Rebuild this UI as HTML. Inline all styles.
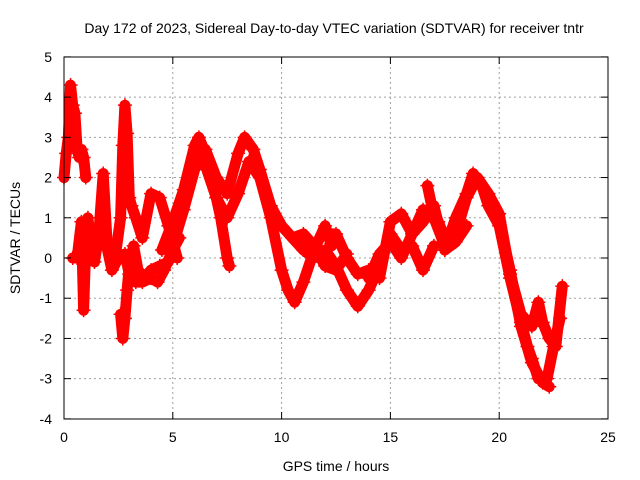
<!DOCTYPE html>
<html><head><meta charset="utf-8"><style>
body{margin:0;background:#fff}
svg{display:block;font-family:"Liberation Sans",sans-serif}
</style></head><body>
<svg id="c" width="640" height="480">
<text x="334" y="33" text-anchor="middle" font-size="14">Day 172 of 2023, Sidereal Day-to-day VTEC variation (SDTVAR) for receiver tntr</text>
<text x="336" y="471" text-anchor="middle" font-size="14">GPS time / hours</text>
<text transform="translate(20,238) rotate(-90)" text-anchor="middle" font-size="14">SDTVAR / TECUs</text>
<g id="grid"></g><g id="marks"></g>
<rect x="64" y="57" width="544" height="362" fill="none" stroke="#000"/>
<g id="ticks"></g>
</svg>
<script>
const xTicks=[0,5,10,15,20,25];
const yTicks=[-4,-3,-2,-1,0,1,2,3,4,5];
const t1=[0,0.1,0.2,0.3,0.4,0.5,0.6,0.7,0.8,0.9,1.0];
const v1=[2.0,2.6,3.0,4.3,3.8,3.6,2.7,2.5,2.7,2.5,2.0];
const t2=[0.4,0.6,0.8,0.9,1.0,1.1,1.2,1.4,1.6,1.8,2.0,2.2,2.5,2.8,3.0,3.3,3.6,4.0,4.3,4.6,5.0,5.3];
const v2=[0,0,0.9,-1.3,0.3,1.0,0.5,-0.1,0.6,2.1,0.2,-0.3,0.0,0.1,-0.4,-0.6,-0.6,-0.5,-0.6,-0.3,0.2,0.5];
const t3=[2.4,2.6,2.7,2.8,2.9,3.0,3.1,3.3,3.6,4.0,4.4,4.8,5.2];
const v3=[0.2,1.0,2.8,3.8,3.1,1.5,1.3,1.0,0.5,1.6,1.5,0.8,0.0];
const t4=[2.6,2.7,2.8,2.9,3.0,3.2,3.4,3.7,4.0,4.4,4.8];
const v4=[-1.4,-2.0,-1.5,-0.8,-0.2,0.3,-0.3,-0.5,-0.3,-0.2,-0.1];
const t5=[4.5,5.0,5.5,6.0,6.2,6.5,6.8,7.0,7.2,7.5,7.6];
const v5=[0.2,0.9,1.7,2.8,3.0,2.6,2.0,1.5,1.0,0.0,-0.2];
const t6=[5.0,5.5,6.0,6.5,7.0,7.5,8.0,8.3,8.7,9.0,9.5,10,10.5,11,11.5,12,12.5,13];
const v6=[0.3,1.2,2.2,2.7,2.0,1.6,2.6,3.0,2.7,2.2,1.3,0.8,0.5,0.6,0.3,-0.2,-0.3,0.1];
const t7=[6.5,7.0,7.5,8.0,8.5,9.0,9.5,10,10.3,10.6,11,11.5,12,12.3];
const v7=[2.3,1.5,1.0,1.6,2.4,2.0,1.0,-0.3,-0.8,-1.1,-0.6,0.2,0.8,0.3];
const t8=[10.5,11,11.5,12,12.5,13,13.5,14,14.5,15,15.5,16,16.5,17];
const v8=[0.5,0.2,0.0,0.2,-0.2,-0.8,-1.2,-0.8,-0.2,0.6,0.2,0.3,-0.3,0.3];
const t9=[12,12.5,13,13.5,14,14.5,15,15.5,16,16.5,17,17.5,18,18.5];
const v9=[0.6,0.6,0.0,-0.4,-0.3,-0.5,0.9,1.1,0.6,0.9,1.3,0.2,0.4,0.8];
const t10=[14,14.5,15,15.5,16,16.5,17,17.5,18,18.5,19,19.5,20,20.5,21,21.5,22,22.3];
const v10=[-0.5,0.1,0.4,0.0,0.6,1.2,1.0,0.3,0.6,1.5,2.0,1.6,0.9,-0.3,-1.7,-2.6,-3.1,-3.2];
const t11=[17.5,18,18.5,18.8,19.2,19.5,20,20.5,21,21.3,21.5,21.8,22.2,22.5,22.8];
const v11=[0.2,1.0,1.6,2.1,1.8,1.3,0.8,-0.5,-1.6,-2.2,-2.5,-3.0,-3.0,-2.2,-1.5];
const t12=[19.5,20,20.5,21,21.5,21.8,22,22.3,22.6,22.9];
const v12=[1.6,1.1,-0.4,-1.4,-1.7,-1.1,-1.6,-2.0,-2.2,-0.7];
const t13=[16.7,16.9,17.2,17.5];
const v13=[1.8,1.3,0.9,0.5];
const series=[[t1,v1],[t2,v2],[t3,v3],[t4,v4],[t5,v5],[t6,v6],[t7,v7],[t8,v8],[t9,v9],[t10,v10],[t11,v11],[t12,v12],[t13,v13]];
const X=t=>64+t*544/25, Y=v=>258-v*40.22;
const NS="http://www.w3.org/2000/svg";
const g=document.getElementById('grid'),tk=document.getElementById('ticks'),m=document.getElementById('marks');
function mk(p,tag,a){const e=document.createElementNS(NS,tag);for(const k in a)e.setAttribute(k,a[k]);p.appendChild(e);return e;}
xTicks.forEach(t=>{
 if(t>0&&t<25){const l=mk(g,'line',{x1:X(t),x2:X(t),y1:57,y2:419,stroke:'#a0a0a0','stroke-dasharray':'2,3'});
 
 }
 mk(tk,'line',{x1:X(t),x2:X(t),y1:419,y2:412,stroke:'#000'});mk(tk,'line',{x1:X(t),x2:X(t),y1:57,y2:64,stroke:'#000'});
 const s=mk(tk,'text',{x:X(t),y:442,'text-anchor':'middle','font-size':14});s.textContent=t;
 
 
});
yTicks.forEach(v=>{
 if(v>-4&&v<5){const l=mk(g,'line',{x1:64,x2:608,y1:Y(v),y2:Y(v),stroke:'#a0a0a0','stroke-dasharray':'2,3'});
 
 }
 mk(tk,'line',{x1:64,x2:71,y1:Y(v),y2:Y(v),stroke:'#000'});mk(tk,'line',{x1:608,x2:601,y1:Y(v),y2:Y(v),stroke:'#000'});
 const s=mk(tk,'text',{x:52,y:Y(v)+5,'text-anchor':'end','font-size':14});s.textContent=v;
 
 
});
series.forEach(([ts,vs],i)=>{
 const d=ts.map((t,j)=>(j?'L':'M')+X(t).toFixed(1)+','+Y(vs[j]).toFixed(1)).join('');
 const p=mk(m,'path',{d:d,fill:'none',stroke:'#f00','stroke-width':11,'stroke-linejoin':'round','stroke-linecap':'round'});
 
 
 ts.forEach((t,j)=>{const x=X(t),y=Y(vs[j]);
  const q=mk(m,'path',{d:`M${x-7},${y}h14M${x},${y-7}v14`,stroke:'#f00','stroke-width':1.5});
  
  
 });
});
</script>
</body></html>
